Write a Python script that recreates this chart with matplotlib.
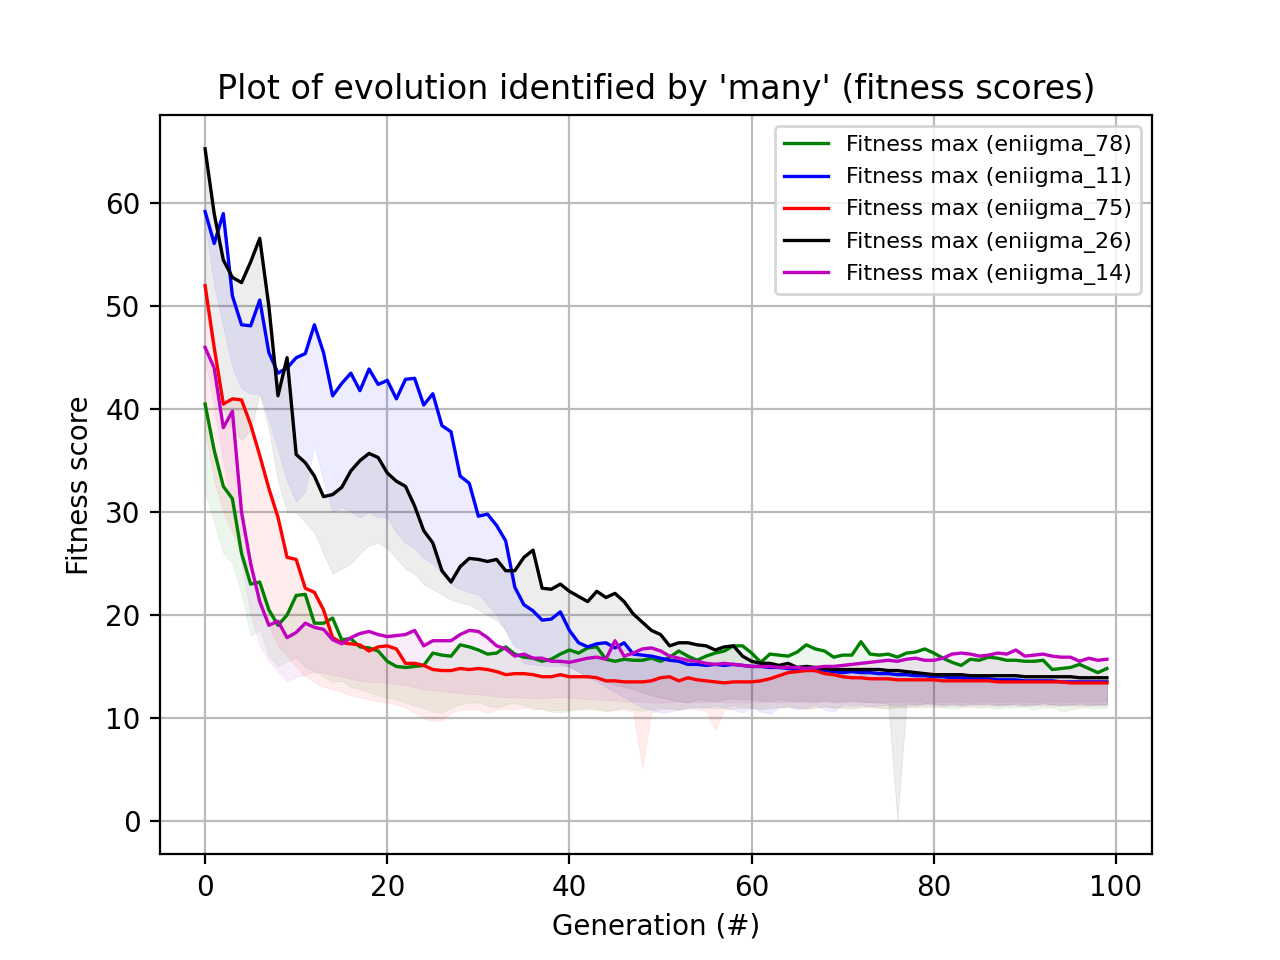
import matplotlib
matplotlib.use("Agg")
import matplotlib.pyplot as plt

gens = list(range(100))

max_78 = [40.5,36,32.5,31.3,26,23,23.2,20.5,19,20,21.9,22,19.2,19.2,19.7,17.6,17.7,16.9,16.8,16.5,
          15.5,15,14.9,15,15.1,16.3,16.1,16,17.1,16.9,16.6,16.2,16.3,16.9,16.2,15.9,15.8,15.5,15.7,16.2,
          16.6,16.3,16.8,16.9,15.7,15.5,15.7,15.6,15.6,15.8,15.5,15.9,16.5,16,15.6,16,16.3,16.5,17,17,
          16.3,15.4,16.2,16.1,16,16.4,17.1,16.7,16.5,15.9,16.1,16.1,17.4,16.2,16.1,16.2,15.9,16.3,16.4,16.7,
          16.3,15.8,15.4,15.1,15.7,15.6,15.9,15.8,15.6,15.6,15.5,15.5,15.6,14.7,14.8,14.9,15.2,14.8,14.4,14.8]
min_78 = [32,29,26,25,22,18,18.5,16,15,15.5,15.8,15,14.5,14,13.5,13.6,13,12.8,12.5,12.2,
          12,11.8,11.5,11.2,11,10.6,10.5,11,11.3,11.5,11.5,11.2,11,11.3,11.5,11.2,11,10.8,10.6,10.5,
          10.7,10.8,11,10.8,10.6,10.8,11,10.8,10.7,10.8,11,10.9,10.8,11,11.1,11,10.9,11,11.2,11,
          11,10.8,10.9,11,11.1,11,10.9,11,11.1,11,11,10.9,11,11.2,11,10.9,11,11.1,11,11,
          11.1,11,10.9,11,11.1,11,11,10.9,11,11,11.1,10.8,11,11,10.6,10.8,11,11,10.9,11]

max_11 = [59.2,56.1,59,51,48.2,48.1,50.6,45.5,43.5,44,45,45.4,48.2,45.5,41.3,42.5,43.5,41.8,43.9,42.4,
          42.8,41,42.9,43,40.4,41.5,38.4,37.8,33.5,32.8,29.6,29.8,28.7,27.2,22.7,21,20.4,19.5,19.6,20.3,
          18.5,17.3,16.9,17.2,17.3,16.8,17.3,16.2,16.1,16,15.8,15.6,15.5,15.2,15.2,15.1,15.2,15.1,15.2,15.1,
          15,15,14.9,14.9,14.8,14.7,14.7,14.6,14.6,14.5,14.4,14.5,14.4,14.4,14.3,14.3,14.2,14.2,14.1,14.1,
          14,14,13.9,13.9,13.8,13.8,13.8,13.7,13.7,13.7,13.6,13.6,13.6,13.6,13.5,13.5,13.5,13.5,13.5,13.5]
min_11 = [58,52,48,44,42,41.5,41.5,39,36,33,31,32,36.5,33,30,30.5,30,29.5,30,29.5,
          29.5,28,27,26.5,25.5,25,24,23,22.5,22.2,22,21,20,18.5,16.5,15.3,15.2,15.1,15,15.1,
          15,14.5,14,13.5,13,12.5,12,11.5,11,10.8,10.5,10.6,10.8,11,11,11,11.2,11,10.8,10.5,
          11,10.6,10.4,11,11.2,10.8,11,11.3,10.8,10.6,11.3,11.2,11.3,11.1,11.2,11.3,11.2,11.3,11.2,11.4,
          11.3,11.2,11.3,11.2,11.3,11.4,11.3,11.2,11.3,11.3,11.2,11.3,11.4,11.3,11.2,11.3,11.3,11.2,11.3,11.3]

max_75 = [52,46,40.5,41,40.9,38.5,35.5,32.3,29.5,25.6,25.4,22.6,22.2,20.5,17.8,17.3,17.2,17.1,16.5,16.9,
          17,16.7,15.3,15.3,15.1,14.7,14.6,14.6,14.8,14.7,14.8,14.7,14.5,14.2,14.3,14.3,14.2,14,14,14.2,
          14,14,14,13.9,13.6,13.6,13.5,13.5,13.5,13.6,13.9,14,13.6,13.9,13.7,13.6,13.5,13.4,13.5,13.5,
          13.5,13.6,13.8,14.1,14.4,14.5,14.6,14.6,14.3,14.2,14,13.9,13.9,13.8,13.8,13.8,13.7,13.7,13.7,13.7,
          13.7,13.6,13.6,13.6,13.6,13.6,13.6,13.5,13.5,13.5,13.5,13.5,13.5,13.5,13.5,13.4,13.4,13.4,13.4,13.4]
min_75 = [38,33,30,28,26,24,21,19,17,16,15,14,13.5,13,12.8,12.5,12.2,12,11.8,11.6,
          11.5,11.3,11,10.5,10,9.7,9.8,10.5,10.8,10.8,10.8,10.5,10.8,10.9,10.8,11,10.8,10.9,10.7,10.8,
          10.8,10.9,10.8,10.9,10.7,10.8,10.8,10.6,5.2,10.5,10.8,10.9,10.8,10.9,10.8,10.7,8.8,10.8,10.9,11,
          11,10.9,11,11.1,11,11,10.9,11,11.1,11,11,11,11.1,11,11,11,11.1,11,11.1,11.2,
          11.1,11.1,11.2,11.1,11.2,11.1,11.2,11.1,11.2,11.2,11.1,11.2,11.2,11.1,11.2,11.2,11.1,11.2,11.2,11.2]

max_26 = [65.3,59,54.5,52.8,52.3,54.3,56.6,50,41.3,45,35.6,34.8,33.5,31.5,31.7,32.4,34,35,35.7,35.3,
          33.8,33,32.5,30.6,28.2,27,24.3,23.2,24.7,25.5,25.4,25.2,25.4,24.3,24.3,25.6,26.3,22.6,22.5,23,
          22.3,21.8,21.3,22.3,21.7,22.1,21.3,20.1,19.3,18.5,18.1,17,17.3,17.3,17.1,17,16.6,16.9,17,16,
          15.5,15.3,15.3,15.1,15.3,14.9,15,14.9,14.8,14.7,14.7,14.7,14.7,14.7,14.7,14.6,14.6,14.5,14.4,14.3,
          14.2,14.2,14.2,14.2,14.1,14.1,14.1,14.1,14.1,14.1,14,14,14,14,14,14,13.9,13.9,13.9,13.9]
min_26 = [50,45,40,38,37,38,41.5,38,33,30,30,29,28,26,24,24.5,25,26,26.8,27,
          26.5,25.5,24.5,24,23,22.5,22,21.5,21.2,21,20.5,20,19.5,18.5,17,16.5,16,15.8,15.5,15.3,
          15,14.5,14,13.8,13.5,13.2,13,12.8,12.5,12.2,12,11.8,11.6,11.5,11.8,11.7,11.6,11.8,11.9,11.8,
          11.8,11.7,11.6,11.8,11.7,11.6,11.7,11.6,11.7,11.6,11.6,11.7,11.6,11.5,11.5,11.4,0,11.4,11.3,11.4,
          11.4,11.3,11.4,11.3,11.4,11.3,11.4,11.3,11.3,11.4,11.3,11.3,11.4,11.3,11.3,11.3,11.4,11.3,11.3,11.3]

max_14 = [46,44,38.2,39.8,30,25,21.3,19,19.4,17.8,18.3,19.2,18.8,18.6,17.6,17.2,17.8,18.2,18.4,18.1,
          17.9,18,18.1,18.5,17,17.5,17.5,17.5,18.1,18.5,18.4,17.8,17,16.7,16,16.2,15.8,15.8,15.5,15.5,
          15.4,15.6,15.8,15.9,15.7,17.5,16,16.3,16.7,16.8,16.5,16,15.8,15.6,15.5,15.3,15.2,15.3,15.2,15.1,
          15,15,15,14.9,14.9,14.9,14.8,14.9,15,15,15.1,15.2,15.3,15.4,15.5,15.6,15.5,15.7,15.8,15.6,
          15.6,15.8,16.2,16.3,16.2,16,16.1,16.3,16.2,16.6,16,16.1,16.2,16,15.9,15.9,15.5,15.8,15.6,15.7]
min_14 = [45,40,35,30,25,20,17,15.5,14.5,13.5,14,14.2,14.5,14.4,14.2,14,13.8,13.6,13.5,13.5,
          13.4,13.3,13.2,13,12.8,12.7,12.6,12.5,12.4,12.3,12.3,12.2,12.1,12,12,12,11.9,11.9,12,12,
          12,11.9,11.8,11.8,11.7,11.7,11.6,11.6,11.6,11.5,11.5,11.5,11.6,11.5,11.5,11.5,11.6,11.5,11.5,11.5,
          11.5,11.5,11.6,11.5,11.5,11.6,11.5,11.5,11.6,11.5,11.5,11.6,11.5,11.6,11.5,11.6,11.5,11.6,11.6,11.5,
          11.6,11.5,11.6,11.6,11.5,11.6,11.6,11.5,11.6,11.6,11.6,11.5,11.6,11.6,11.6,11.5,11.6,11.6,11.6,11.6]

series = [("eniigma_78", max_78, min_78, "g"),
          ("eniigma_11", max_11, min_11, "b"),
          ("eniigma_75", max_75, min_75, "r"),
          ("eniigma_26", max_26, min_26, "k"),
          ("eniigma_14", max_14, min_14, "m")]

fig, ax = plt.subplots(figsize=(6.4, 4.8), dpi=200)
for name, mx, mn, c in series:
    ax.plot(gens, mx, color=c, lw=1.2, label=f"Fitness max ({name})")
    ax.fill_between(gens, mn, mx, color=c, alpha=0.07, lw=0.3, edgecolor=c)
ax.grid(True, color="#bbbbbb", lw=0.8)
ax.set_axisbelow(True)
ax.set_title("Plot of evolution identified by 'many' (fitness scores)")
ax.set_xlabel("Generation (#)")
ax.set_ylabel("Fitness score")
ax.legend(loc="upper right", fontsize=8)
fig.savefig("out.png", dpi=200)
